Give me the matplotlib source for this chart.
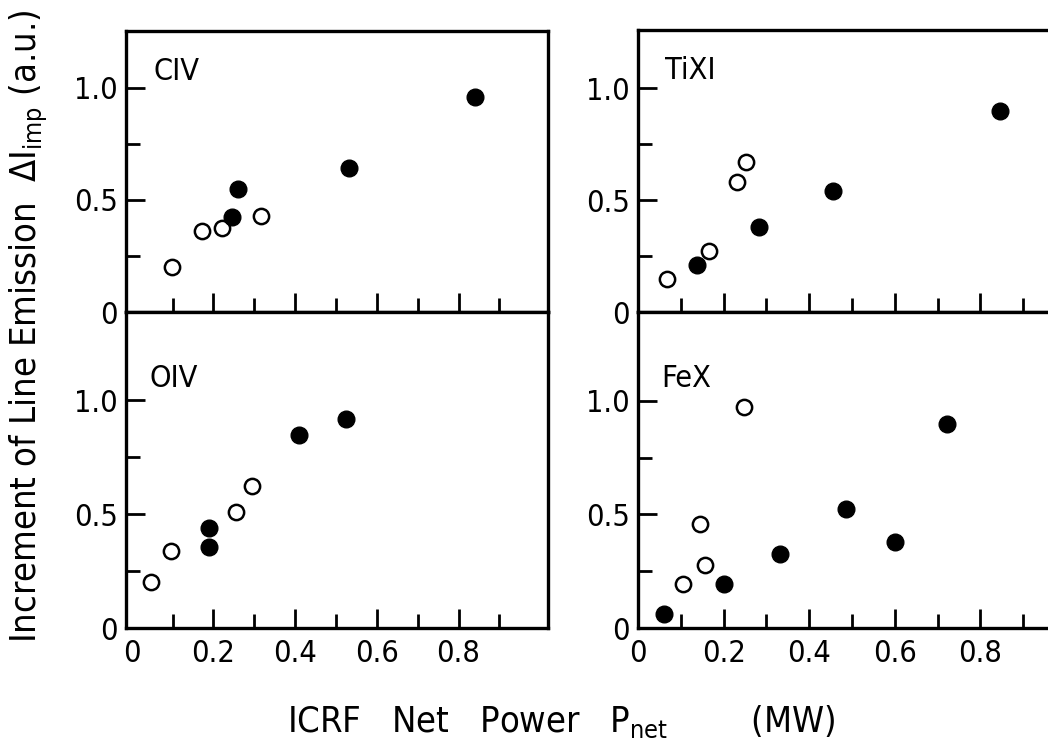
import matplotlib
matplotlib.use("Agg")
import matplotlib.pyplot as plt
from matplotlib.ticker import FixedLocator

plt.rcParams['font.family'] = ['DejaVu Sans']
plt.rcParams['font.stretch'] = 'condensed'
plt.rcParams['mathtext.fontset'] = 'custom'
plt.rcParams['mathtext.rm'] = 'DejaVu Sans:stretch=condensed'
plt.rcParams['mathtext.it'] = 'DejaVu Sans:stretch=condensed'

# --- data (open / filled circles) ---
civ_open_x = [0.099, 0.173, 0.221, 0.317]
civ_open_y = [0.202, 0.363, 0.376, 0.429]
civ_fill_x = [0.245, 0.260, 0.532, 0.841]
civ_fill_y = [0.425, 0.549, 0.644, 0.961]

tixi_open_x = [0.067, 0.166, 0.232, 0.253]
tixi_open_y = [0.146, 0.274, 0.582, 0.668]
tixi_fill_x = [0.137, 0.283, 0.455, 0.845]
tixi_fill_y = [0.210, 0.381, 0.542, 0.897]

oiv_open_x = [0.048, 0.095, 0.256, 0.294]
oiv_open_y = [0.203, 0.339, 0.507, 0.624]
oiv_fill_x = [0.189, 0.190, 0.410, 0.524]
oiv_fill_y = [0.437, 0.354, 0.846, 0.915]

fex_open_x = [0.106, 0.144, 0.157, 0.248]
fex_open_y = [0.192, 0.456, 0.276, 0.974]
fex_fill_x = [0.061, 0.200, 0.331, 0.485, 0.600, 0.721]
fex_fill_y = [0.060, 0.193, 0.328, 0.525, 0.379, 0.898]

x_major = [0, 0.2, 0.4, 0.6, 0.8]
x_minor = [0.1, 0.3, 0.5, 0.7, 0.9]
x_labels = ['0', '0.2', '0.4', '0.6', '0.8']
y_major = [0, 0.5, 1.0]
y_minor = [0.25, 0.75]
y_labels = ['0', '0.5', '1.0']

W, H = 1048, 753
fig = plt.figure(figsize=(W / 100, H / 100), dpi=100)


def make_axes(px_left, px_right, px_top, px_bottom):
    return fig.add_axes([px_left / W, 1 - px_bottom / H,
                         (px_right - px_left) / W, (px_bottom - px_top) / H])


panels = [
    # name, axes box (px), xlim, ylim, open, filled, show x labels, label pos
    ('CIV', (126, 548, 31, 312), (-0.014, 1.019), (0, 1.254),
     (civ_open_x, civ_open_y), (civ_fill_x, civ_fill_y), False, (0.064, 0.855)),
    ('TiXI', (638, 1066, 30, 312), (0.0, 1.0), (0, 1.259),
     (tixi_open_x, tixi_open_y), (tixi_fill_x, tixi_fill_y), False, (0.064, 0.855)),
    ('OIV', (126, 548, 312, 628), (-0.014, 1.019), (0, 1.386),
     (oiv_open_x, oiv_open_y), (oiv_fill_x, oiv_fill_y), True, (0.055, 0.79)),
    ('FeX', (638, 1066, 312, 628), (0.0, 1.0), (0, 1.392),
     (fex_open_x, fex_open_y), (fex_fill_x, fex_fill_y), True, (0.054, 0.79)),
]

for name, box, xlim, ylim, op, fi, xlab, lpos in panels:
    ax = make_axes(*box)
    ax.plot(op[0], op[1], 'o', ms=11, mfc='white', mec='black', mew=1.8,
            ls='none', clip_on=False)
    ax.plot(fi[0], fi[1], 'o', ms=12, mfc='black', mec='black', ls='none',
            clip_on=False)
    ax.set_xlim(*xlim)
    ax.set_ylim(*ylim)
    ax.xaxis.set_major_locator(FixedLocator(x_major))
    ax.xaxis.set_minor_locator(FixedLocator(x_minor))
    ax.yaxis.set_major_locator(FixedLocator(y_major))
    ax.yaxis.set_minor_locator(FixedLocator(y_minor))
    ax.set_yticklabels(y_labels)
    if xlab:
        ax.set_xticklabels(x_labels)
    else:
        ax.set_xticklabels([])
    ax.tick_params(which='both', direction='in', width=2, top=False, right=False,
                   labelsize=22)
    ax.tick_params(axis='x', pad=8)
    ax.tick_params(axis='y', pad=6)
    ax.tick_params(which='major', length=14)
    ax.tick_params(which='minor', length=10)
    ax.xaxis.get_major_ticks()[0].tick1line.set_visible(False)
    ax.yaxis.get_major_ticks()[0].tick1line.set_visible(False)
    for s in ax.spines.values():
        s.set_linewidth(2.4)
    ax.text(lpos[0], lpos[1], name, transform=ax.transAxes, fontsize=22,
            ha='left', va='center')

fig.text(29 / W, 1 - 326 / H,
         r'Increment of Line Emission  $\Delta I_{\rm imp}$ (a.u.)',
         rotation=90, ha='center', va='center', fontsize=26)
fig.text(561 / W, 1 - 722 / H,
         r'ICRF   Net   Power   $P_{\rm net}$        (MW)',
         ha='center', va='center', fontsize=26)

fig.savefig('out.png', dpi=100)
